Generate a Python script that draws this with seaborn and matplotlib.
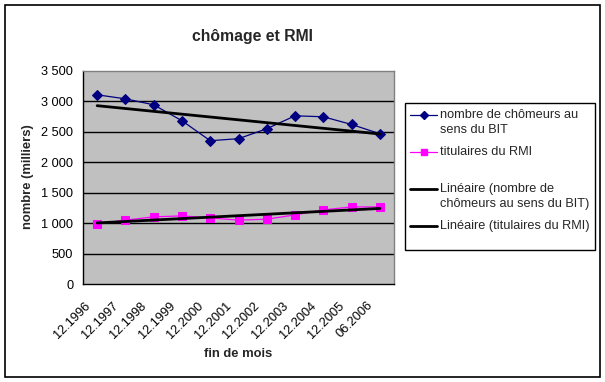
import numpy as np
import pandas as pd
import matplotlib
matplotlib.use("Agg")
import matplotlib.pyplot as plt
import matplotlib.transforms as mtransforms
import seaborn as sns
from matplotlib.lines import Line2D
from matplotlib.patches import Rectangle
from matplotlib.ticker import FuncFormatter

sns.set_style("white")
plt.rcParams['font.family'] = ['Liberation Sans', 'DejaVu Sans']

# Data
months = ["12.1996", "12.1997", "12.1998", "12.1999", "12.2000", "12.2001",
          "12.2002", "12.2003", "12.2004", "12.2005", "06.2006"]
chomeurs = [3105, 3039, 2941, 2680, 2353, 2386, 2549, 2761, 2745, 2619, 2467]
rmi = [990, 1051, 1105, 1121, 1088, 1051, 1067, 1137, 1219, 1268, 1268]

lab_ch = ["nombre de chômeurs au", "sens du BIT"]
lab_rmi = ["titulaires du RMI"]
lab_tr1 = ["Linéaire (nombre de", "chômeurs au sens du BIT)"]
lab_tr2 = ["Linéaire (titulaires du RMI)"]

pos = np.arange(len(months))
df = pd.DataFrame({"pos": pos, "mois": months, "chomeurs": chomeurs, "rmi": rmi})

W, H = 605, 382
fig = plt.figure(figsize=(W / 100, H / 100), dpi=100)
fig.patch.set_facecolor("white")
fig.patches.append(Rectangle((5 / W, 1 - 377 / H), 595 / W, 372 / H, transform=fig.transFigure,
                             fill=False, edgecolor="black", linewidth=1.2))

ax = fig.add_axes([83 / W, 1 - 284.3 / H, (394 - 83) / W, (284.3 - 70.7) / H])
ax.set_facecolor("#C0C0C0")

# Grid lines
for v in range(500, 3500, 500):
    ax.axhline(v, color="black", linewidth=1.0, zorder=1)

sns.lineplot(data=df, x="pos", y="chomeurs", ax=ax, color="#000080", linewidth=0.9,
             marker="D", markersize=5, markeredgecolor="#000080", sort=False, zorder=3)
sns.lineplot(data=df, x="pos", y="rmi", ax=ax, color="#FF00FF", linewidth=0.9,
             marker="s", markersize=6, markeredgecolor="#FF00FF", sort=False, zorder=3)

# Linear trendlines
for series in (chomeurs, rmi):
    a, b = np.polyfit(pos, series, 1)
    ax.plot(pos, a * pos + b, color="black", linewidth=2.0, zorder=4)

ax.set_xlim(-0.5, len(months) - 0.5)
ax.set_ylim(0, 3500)
ax.set_yticks(range(0, 3501, 500))
ax.yaxis.set_major_formatter(FuncFormatter(lambda v, p: f"{int(v):,}".replace(",", " ")))
ax.set_xticks(pos)
ax.set_xticks(np.arange(-0.5, len(months), 1.0), minor=True)
ax.tick_params(axis="x", which="major", length=0, pad=11)
ax.tick_params(axis="x", which="minor", length=4, width=1, color="black", direction="out")
ax.tick_params(axis="y", length=4, width=1, color="black", direction="out", labelsize=9.2, pad=3)
ax.tick_params(axis="both", colors="black", labelcolor="black")
ax.set_xticklabels(months, rotation=45, ha="right", rotation_mode="anchor", fontsize=9.2)
shift = mtransforms.ScaledTranslation(-13 / 100, 0, fig.dpi_scale_trans)
for t in ax.get_xticklabels():
    t.set_transform(t.get_transform() + shift)
for sp in ax.spines.values():
    sp.set_visible(True)
    sp.set_color("black")
    sp.set_linewidth(1.0)
ax.spines["top"].set_color("#808080")
ax.spines["right"].set_color("#808080")
ax.set_xlabel("")
ax.set_ylabel("")

fig.text(252 / W, 1 - 36 / H, "chômage et RMI", ha="center", va="center",
         fontsize=11.3, fontweight="bold")
fig.text(28 / W, 1 - 177 / H, "nombre (milliers)", ha="center", va="center",
         rotation=90, fontsize=9.4, fontweight="bold")
fig.text(238 / W, 1 - 354 / H, "fin de mois", ha="center", va="center",
         fontsize=9.4, fontweight="bold")

# Legend (drawn as a framed box with handles aligned to first text line)
fig.patches.append(Rectangle((405 / W, 1 - 250 / H), 190 / W, 147 / H, transform=fig.transFigure,
                             facecolor="white", edgecolor="black", linewidth=1.0))
entries = [
    (lab_ch, dict(color="#000080", linewidth=0.9, marker="D", markersize=4), 115),
    (lab_rmi, dict(color="#FF00FF", linewidth=0.9, marker="s", markersize=5), 152),
    (lab_tr1, dict(color="black", linewidth=2.0), 189),
    (lab_tr2, dict(color="black", linewidth=2.0), 226),
]
for lines, style, y0 in entries:
    yy = 1 - y0 / H
    fig.lines.append(Line2D([410 / W, 437 / W], [yy, yy], transform=fig.transFigure,
                            color=style["color"], linewidth=style["linewidth"]))
    if "marker" in style:
        fig.lines.append(Line2D([423.5 / W], [yy], transform=fig.transFigure,
                                linestyle="none", marker=style["marker"],
                                markersize=style["markersize"], color=style["color"]))
    for i, s in enumerate(lines):
        fig.text(440 / W, 1 - (y0 + 15 * i) / H, s, ha="left", va="center", fontsize=9.2)

fig.savefig("out.png", dpi=100)
